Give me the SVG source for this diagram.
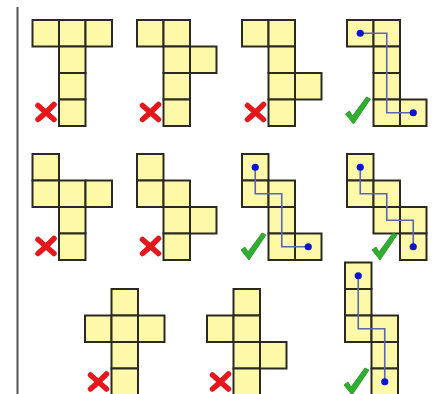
<svg xmlns="http://www.w3.org/2000/svg" width="435" height="394" viewBox="0 0 435 394">
<defs>
<style>
.c{fill:#fdf9a8;stroke:#2a2a22;stroke-width:2}
.p{fill:none;stroke:#5a64b4;stroke-width:1.6}
.d{fill:#0a14d2}
.x{fill:none;stroke:#e3171c;stroke-width:5.5;stroke-linecap:round}
.k{fill:#2fae2f;stroke:#1f8f1f;stroke-width:0.8;stroke-linejoin:round}
</style>
<g id="cross"><path class="x" d="M-8,-7 L8,7 M-8,7 C-2,2 3,-3 8,-8"/></g>
<g id="check"><path class="k" d="M-12,4 L-8,1 L-5,6 L9,-13 L13,-11 L-4,14 Z"/></g>
</defs>
<rect width="435" height="394" fill="#fff"/>
<line x1="17.5" y1="7" x2="17.5" y2="394" stroke="#555" stroke-width="2"/>

<g id="net1">
<rect class="c" x="32.5" y="20" width="26.5" height="26.5"/><rect class="c" x="59" y="20" width="26.5" height="26.5"/><rect class="c" x="85.5" y="20" width="26.5" height="26.5"/>
<rect class="c" x="59" y="46.5" width="26.5" height="26.5"/><rect class="c" x="59" y="73" width="26.5" height="26.5"/><rect class="c" x="59" y="99.5" width="26.5" height="26.5"/>
<use href="#cross" x="46" y="112.5"/>
</g>
<g id="net2">
<rect class="c" x="137" y="20" width="26.5" height="26.5"/><rect class="c" x="163.5" y="20" width="26.5" height="26.5"/>
<rect class="c" x="163.5" y="46.5" width="26.5" height="26.5"/><rect class="c" x="190" y="46.5" width="26.5" height="26.5"/>
<rect class="c" x="163.5" y="73" width="26.5" height="26.5"/><rect class="c" x="163.5" y="99.5" width="26.5" height="26.5"/>
<use href="#cross" x="150.5" y="112.5"/>
</g>
<g id="net3">
<rect class="c" x="242" y="20" width="26.5" height="26.5"/><rect class="c" x="268.5" y="20" width="26.5" height="26.5"/>
<rect class="c" x="268.5" y="46.5" width="26.5" height="26.5"/>
<rect class="c" x="268.5" y="73" width="26.5" height="26.5"/><rect class="c" x="295" y="73" width="26.5" height="26.5"/>
<rect class="c" x="268.5" y="99.5" width="26.5" height="26.5"/>
<use href="#cross" x="255.5" y="112.5"/>
</g>
<g id="net4">
<rect class="c" x="347" y="20" width="26.5" height="26.5"/><rect class="c" x="373.5" y="20" width="26.5" height="26.5"/>
<rect class="c" x="373.5" y="46.5" width="26.5" height="26.5"/><rect class="c" x="373.5" y="73" width="26.5" height="26.5"/>
<rect class="c" x="373.5" y="99.5" width="26.5" height="26.5"/><rect class="c" x="400" y="99.5" width="26.5" height="26.5"/>
<use href="#check" x="357.5" y="110"/>
</g>

<g id="net5">
<rect class="c" x="32.5" y="154" width="26.5" height="26.5"/>
<rect class="c" x="32.5" y="180.5" width="26.5" height="26.5"/><rect class="c" x="59" y="180.5" width="26.5" height="26.5"/><rect class="c" x="85.5" y="180.5" width="26.5" height="26.5"/>
<rect class="c" x="59" y="207" width="26.5" height="26.5"/><rect class="c" x="59" y="233.5" width="26.5" height="26.5"/>
<use href="#cross" x="46" y="246.5"/>
</g>
<g id="net6">
<rect class="c" x="137" y="154" width="26.5" height="26.5"/>
<rect class="c" x="137" y="180.5" width="26.5" height="26.5"/><rect class="c" x="163.5" y="180.5" width="26.5" height="26.5"/>
<rect class="c" x="163.5" y="207" width="26.5" height="26.5"/><rect class="c" x="190" y="207" width="26.5" height="26.5"/>
<rect class="c" x="163.5" y="233.5" width="26.5" height="26.5"/>
<use href="#cross" x="150.5" y="246.5"/>
</g>
<g id="net7">
<rect class="c" x="242" y="154" width="26.5" height="26.5"/>
<rect class="c" x="242" y="180.5" width="26.5" height="26.5"/><rect class="c" x="268.5" y="180.5" width="26.5" height="26.5"/>
<rect class="c" x="268.5" y="207" width="26.5" height="26.5"/>
<rect class="c" x="268.5" y="233.5" width="26.5" height="26.5"/><rect class="c" x="295" y="233.5" width="26.5" height="26.5"/>
<use href="#check" x="253" y="246"/>
</g>
<g id="net8">
<rect class="c" x="347" y="154" width="26.5" height="26.5"/>
<rect class="c" x="347" y="180.5" width="26.5" height="26.5"/><rect class="c" x="373.5" y="180.5" width="26.5" height="26.5"/>
<rect class="c" x="373.5" y="207" width="26.5" height="26.5"/><rect class="c" x="400" y="207" width="26.5" height="26.5"/>
<rect class="c" x="400" y="233.5" width="26.5" height="26.5"/>
<use href="#check" x="384" y="246"/>
</g>

<g id="net9">
<rect class="c" x="111.5" y="289" width="26.5" height="26.5"/>
<rect class="c" x="85" y="315.5" width="26.5" height="26.5"/><rect class="c" x="111.5" y="315.5" width="26.5" height="26.5"/><rect class="c" x="138" y="315.5" width="26.5" height="26.5"/>
<rect class="c" x="111.5" y="342" width="26.5" height="26.5"/><rect class="c" x="111.5" y="368.5" width="26.5" height="26.5"/>
<use href="#cross" x="98.5" y="382"/>
</g>
<g id="net10">
<rect class="c" x="233.5" y="289" width="26.5" height="26.5"/>
<rect class="c" x="207" y="315.5" width="26.5" height="26.5"/><rect class="c" x="233.5" y="315.5" width="26.5" height="26.5"/>
<rect class="c" x="233.5" y="342" width="26.5" height="26.5"/><rect class="c" x="260" y="342" width="26.5" height="26.5"/>
<rect class="c" x="233.5" y="368.5" width="26.5" height="26.5"/>
<use href="#cross" x="220.5" y="382"/>
</g>
<g id="net11">
<rect class="c" x="345" y="262.5" width="26.5" height="26.5"/>
<rect class="c" x="345" y="289" width="26.5" height="26.5"/>
<rect class="c" x="345" y="315.5" width="26.5" height="26.5"/><rect class="c" x="371.5" y="315.5" width="26.5" height="26.5"/>
<rect class="c" x="371.5" y="342" width="26.5" height="26.5"/><rect class="c" x="371.5" y="368.5" width="26.5" height="26.5"/>
<use href="#check" x="356" y="381"/>
</g>

<g id="connectors">
<path class="p" d="M360.25,33.25 H386.75 V112.75 H413.25"/>
<path class="p" d="M255.25,167.25 V193.75 H281.75 V246.75 H308.25"/>
<path class="p" d="M360.25,167.25 V193.75 H386.75 V220.25 H413.25 V246.75"/>
<path class="p" d="M358.25,275.75 V328.75 H384.75 V381.75"/>
<circle class="d" cx="360.25" cy="33.25" r="3.6"/><circle class="d" cx="413.25" cy="112.75" r="3.6"/>
<circle class="d" cx="255.25" cy="167.25" r="3.6"/><circle class="d" cx="308.25" cy="246.75" r="3.6"/>
<circle class="d" cx="360.25" cy="167.25" r="3.6"/><circle class="d" cx="413.25" cy="246.75" r="3.6"/>
<circle class="d" cx="358.25" cy="275.75" r="3.6"/><circle class="d" cx="384.75" cy="381.75" r="3.6"/>
</g>
</svg>
